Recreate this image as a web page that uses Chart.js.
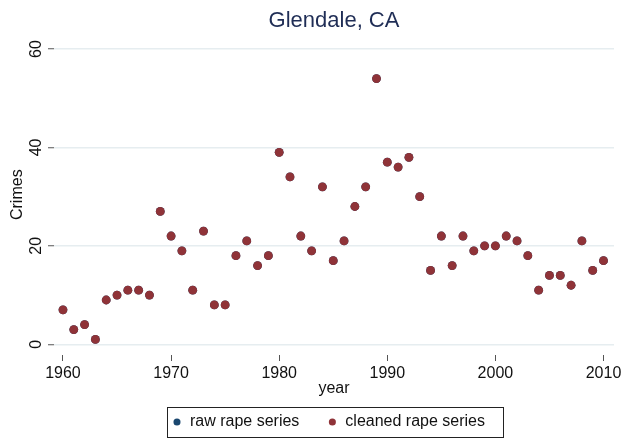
<!DOCTYPE html>
<html><head><meta charset="utf-8">
<script src="https://cdn.jsdelivr.net/npm/chart.js@4.4.0/dist/chart.umd.min.js"></script>
<style>html,body{margin:0;padding:0;background:#fff}#wrap{width:625px;height:440px}</style>
</head><body><div id="wrap"><canvas id="c" width="625" height="440"></canvas></div>
<script>
const years = [1960,1961,1962,1963,1964,1965,1966,1967,1968,1969,1970,1971,1972,1973,1974,1975,1976,1977,1978,1979,1980,1981,1982,1983,1984,1985,1986,1987,1988,1989,1990,1991,1992,1993,1994,1995,1996,1997,1998,1999,2000,2001,2002,2003,2004,2005,2006,2007,2008,2009,2010];
const rawRape = [7,3,4,1,9,10,11,11,10,27,22,19,11,23,8,8,18,21,16,18,39,34,22,19,32,17,21,28,32,54,37,36,38,30,15,22,16,22,19,20,20,22,21,18,11,14,14,12,21,15,17];
const cleanedRape = [7,3,4,1,9,10,11,11,10,27,22,19,11,23,8,8,18,21,16,18,39,34,22,19,32,17,21,28,32,54,37,36,38,30,15,22,16,22,19,20,20,22,21,18,11,14,14,12,21,15,17];
const xTicks = [1960,1970,1980,1990,2000,2010];
const yTicks = [0,20,40,60];
const seriesNames = ['raw rape series','cleaned rape series'];
const chartTitle = 'Glendale, CA';
const xTitle = 'year';
const yTitle = 'Crimes';

const FAM = '"Liberation Sans", Arial, Helvetica, sans-serif';
const TXT = '#111';
const RED = '#8f3338';
const BLUE = '#1a476f';

const legendBorder = {
  id: 'legendBorder',
  afterDraw(chart) {
    const lg = chart.legend;
    if (!lg || !lg.legendHitBoxes || !lg.legendHitBoxes.length) return;
    const hb = lg.legendHitBoxes;
    const last = hb[hb.length - 1];
    const l = hb[0].left - 5, r = last.left + last.width + 17.5;
    const t = hb[0].top - 7, b = hb[0].top + hb[0].height + 7;
    const ctx = chart.ctx;
    ctx.save();
    ctx.strokeStyle = '#222';
    ctx.lineWidth = 1;
    ctx.strokeRect(Math.round(l) + 0.5, Math.round(t) + 0.5, Math.round(r - l), Math.round(b - t));
    ctx.restore();
  }
};

new Chart(document.getElementById('c'), {
  type: 'scatter',
  data: {
    datasets: [
      { label: seriesNames[0], data: years.map((y, i) => ({x: y, y: rawRape[i]})),
        backgroundColor: BLUE, borderColor: BLUE, pointRadius: 4.4, pointHoverRadius: 4.4, pointBorderWidth: 0, order: 1 },
      { label: seriesNames[1], data: years.map((y, i) => ({x: y, y: cleanedRape[i]})),
        backgroundColor: RED, borderColor: RED, pointRadius: 4.4, pointHoverRadius: 4.4, pointBorderWidth: 0, order: 0 }
    ]
  },
  options: {
    responsive: false,
    animation: false,
    devicePixelRatio: 1,
    layout: { padding: { left: 43, right: 11, top: 0, bottom: 0 } },
    scales: {
      x: {
        type: 'linear', min: 1959.17, max: 2010.97,
        afterBuildTicks: s => { s.ticks = xTicks.map(v => ({ value: v })); },
        afterFit: s => { s.height = 31; },
        grid: { display: true, drawOnChartArea: false, color: 'rgba(0,0,0,0)', tickColor: '#555', tickLength: 6, tickWidth: 1 },
        border: { display: false },
        ticks: { padding: 3, minRotation: 0, maxRotation: 0, color: TXT, font: { size: 16, family: FAM }, callback: v => String(v) },
        title: { display: true, text: xTitle, color: TXT, font: { size: 16, family: FAM }, padding: { top: 0, bottom: -12 } }
      },
      y: {
        min: -2.174, max: 62.966,
        afterBuildTicks: s => { s.ticks = yTicks.map(v => ({ value: v })); },
        afterFit: s => { s.width = 11; },
        grid: { display: true, color: '#e6edf0', lineWidth: 1.5, tickColor: '#555', tickLength: 6, tickWidth: 1 },
        border: { display: false },
        ticks: { mirror: true, minRotation: 90, maxRotation: 90, crossAlign: 'center', padding: -26.5, color: TXT, font: { size: 16, family: FAM }, callback: v => String(v) },
        title: { display: true, text: yTitle, color: TXT, font: { size: 16, family: FAM }, padding: { top: -35, bottom: 0 } }
      }
    },
    plugins: {
      title: { display: true, text: chartTitle, fullSize: false, color: '#1f2d55', font: { size: 22, weight: 'normal', family: FAM }, padding: { top: 8, bottom: 0 } },
      legend: {
        position: 'bottom', fullSize: true,
        labels: { usePointStyle: true, pointStyle: 'circle', boxWidth: 10, boxHeight: 5, padding: 28, color: TXT,
          font: { size: 16, family: FAM }, sort: (a, b) => a.datasetIndex - b.datasetIndex }
      },
      tooltip: { enabled: false }
    }
  },
  plugins: [legendBorder]
});
</script>
</body></html>
